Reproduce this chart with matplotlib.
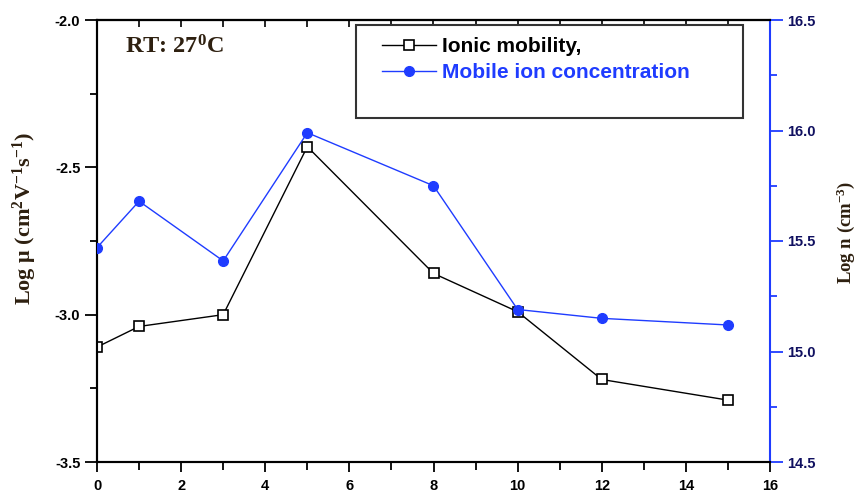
import matplotlib
matplotlib.use("Agg")
import matplotlib.pyplot as plt
from matplotlib.patches import Rectangle
from matplotlib.ticker import MultipleLocator, FormatStrFormatter

plt.rcParams['mathtext.fontset'] = 'custom'
plt.rcParams['mathtext.rm'] = 'Liberation Serif:bold'
plt.rcParams['mathtext.bf'] = 'Liberation Serif:bold'
plt.rcParams['mathtext.it'] = 'Liberation Serif:bold'

x_vals = [0, 1, 3, 5, 8, 10, 12, 15]
log_mu = [-3.11, -3.04, -3.00, -2.43, -2.86, -2.99, -3.22, -3.29]
log_n = [15.47, 15.68, 15.41, 15.99, 15.75, 15.19, 15.15, 15.12]

label_mu = "Ionic mobility,"
label_n = "Mobile ion concentration"
title_text = "RT: 27$^\\mathrm{0}$C"
ylabel_left = "Log \u03bc (cm$^\\mathrm{2}$V$^\\mathrm{-1}$s$^\\mathrm{-1}$)"
ylabel_right = "Log n (cm$^\\mathrm{-3}$)"

BLUE = '#1f3cff'
LABEL_COLOR = '#2e2010'

fig = plt.figure(figsize=(8.56, 4.93), dpi=100)
ax = fig.add_axes([97/856, 1-462/493, (770-97)/856, (462-20)/493])
ax2 = ax.twinx()

l1, = ax.plot(x_vals, log_mu, color='black', lw=1.0, marker='s', ms=7,
              mfc='white', mec='black', mew=1.2, label=label_mu, zorder=3)
l2, = ax2.plot(x_vals, log_n, color=BLUE, lw=1.0, marker='o', ms=7,
               mfc=BLUE, mec=BLUE, label=label_n, zorder=3)

ax.set_xlim(0, 16)
ax.set_ylim(-3.5, -2.0)
ax2.set_ylim(14.5, 16.5)

ax.xaxis.set_major_locator(MultipleLocator(2))
ax.xaxis.set_minor_locator(MultipleLocator(1))
ax.yaxis.set_major_locator(MultipleLocator(0.5))
ax.yaxis.set_minor_locator(MultipleLocator(0.25))
ax2.yaxis.set_major_locator(MultipleLocator(0.5))
ax2.yaxis.set_minor_locator(MultipleLocator(0.25))

ax.tick_params(axis='x', which='major', direction='out', length=7, width=1.3,
               pad=5, top=False)
ax.tick_params(axis='x', which='minor', direction='out', length=6, width=1.3, top=False)
ax.tick_params(axis='y', which='major', direction='out', length=9, width=1.3, pad=3)
ax.tick_params(axis='y', which='minor', direction='out', length=5, width=1.3)
ax2.tick_params(axis='y', which='major', direction='out', length=9, width=1.3,
                colors=BLUE, labelcolor='#101060', pad=3)
ax2.tick_params(axis='y', which='minor', direction='out', length=5, width=1.3, colors=BLUE)

# top ticks pointing inward
secx = ax.secondary_xaxis('top')
secx.xaxis.set_major_locator(MultipleLocator(1))
secx.tick_params(axis='x', which='major', direction='in', length=5, width=1.2,
                 labeltop=False)
secx.spines['top'].set_linewidth(1.5)

ax.xaxis.set_major_formatter(FormatStrFormatter('%d'))
ax.yaxis.set_major_formatter(FormatStrFormatter('%.1f'))
ax2.yaxis.set_major_formatter(FormatStrFormatter('%.1f'))

for lab in ax.get_xticklabels() + ax.get_yticklabels() + ax2.get_yticklabels():
    lab.set_fontfamily('Liberation Sans')
    lab.set_fontweight('bold')
    lab.set_fontsize(10.5)

for s in ['left', 'bottom', 'top']:
    ax.spines[s].set_linewidth(1.5)
    ax2.spines[s].set_linewidth(1.5)
ax2.spines['right'].set_color(BLUE)
ax2.spines['right'].set_linewidth(1.5)
ax.spines['right'].set_visible(False)

ax.set_ylabel(ylabel_left, family='Liberation Serif', weight='bold', fontsize=16,
              color=LABEL_COLOR)
ax.yaxis.set_label_coords(-0.086, 0.552)
ax2.set_ylabel(ylabel_right, family='Liberation Serif', weight='bold', fontsize=13.5,
               color=LABEL_COLOR, rotation=90)
ax2.yaxis.set_label_coords(1.096, 0.52)

ax.text(0.042, 0.94, title_text, transform=ax.transAxes, family='Liberation Serif',
        weight='bold', fontsize=17.5, color=LABEL_COLOR, va='center', ha='left')

# legend frame
rect = Rectangle((0.385, 0.778), 0.575, 0.211, transform=ax.transAxes,
                 fill=True, facecolor='white', edgecolor='#333333', lw=1.5, zorder=5)
ax2.add_patch(rect)
leg = ax2.legend(handles=[l1, l2], loc='upper left', bbox_to_anchor=(0.395, 1.004),
                 frameon=False, handlelength=2.6, handletextpad=0.3, labelspacing=0.35,
                 prop=dict(family='Liberation Sans', weight='bold', size=15))
leg.set_zorder(6)
leg.get_texts()[0].set_color('black')
leg.get_texts()[1].set_color(BLUE)

fig.savefig('out.png', dpi=100)
